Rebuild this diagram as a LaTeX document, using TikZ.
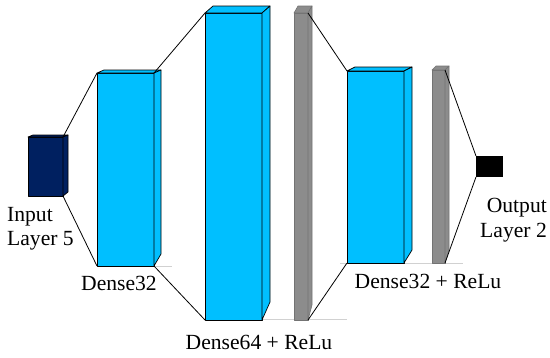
\documentclass[tikz,border=0pt]{standalone}
\usepackage{fontspec}
\setmainfont{Liberation Serif}
\definecolor{layerblue}{HTML}{00BFFF}
\definecolor{navyblue}{HTML}{002060}
\definecolor{bargray}{HTML}{8C8C8C}
\definecolor{bartop}{HTML}{7A7A7A}
\newcommand\layerbox[9]{%
  \node[#2, minimum width={(#4-#3)*1pt}, minimum height={(#6-#5)*1pt}, inner sep=0pt, outer sep=0pt] (#1) at ({(#3+#4)/2},{(#5+#6)/2}) {};
  \path[#2] (#3,#5) -- ({#3+#7},{#5-#8}) -- ({#4+#7},{#5-#8}) -- (#4,#5) -- cycle;
  \path[#2] (#4,#5) -- ({#4+#7},{#5-#8}) -- ({#4+#7},#9) -- (#4,#6) -- cycle;
}
\begin{document}
\begin{tikzpicture}[x=1pt,y=-1pt,
  face/.style={line width=0.7pt, draw=black, line join=round},
  bluebox/.style={face, fill=layerblue},
  navybox/.style={face, fill=navyblue},
  graybox/.style={line width=0.6pt, draw=black!55, fill=bargray, line join=round},
  link/.style={line width=0.8pt, draw=black},
  floorline/.style={line width=1pt, draw=black!18},
  lbl/.style={font=\fontsize{21.6}{24}\selectfont, inner sep=0pt}]
\useasboundingbox (0,0) rectangle (550,357);
% floor lines
\draw[floorline] (154,266) -- (172,266);
\draw[floorline] (262,319) -- (347,319);
\draw[floorline] (340,263) -- (463,263);
% layers
\layerbox{in}{navybox}{28}{63}{137}{196}{5}{2}{192}
\layerbox{d1}{bluebox}{97}{154}{73}{266}{7}{3}{254}
\layerbox{d2}{bluebox}{205}{262}{13}{320}{8}{7}{302}
\layerbox{g1}{graybox}{294}{308}{13}{320}{4}{7}{305}
\layerbox{d3}{bluebox}{347}{404}{71}{263}{8}{4}{250}
\layerbox{g2}{graybox}{432}{445}{70}{263}{4}{4}{250}
\node[fill=black, minimum width=27pt, minimum height=21pt, inner sep=0pt, outer sep=0pt] (out) at (489.5,166.5) {};
% connectors
\draw[link] (in.north east) -- (d1.north west);
\draw[link] (in.south east) -- (d1.south west);
\draw[link] (d1.north east) -- (d2.north west);
\draw[link] (d1.south east) -- (d2.south west);
\draw[link] (g1.north east) -- (d3.north west);
\draw[link] (g1.south east) -- (d3.south west);
\draw[link] (g2.north east) -- (out.north west);
\draw[link] (g2.south east) -- (out.south west);
% labels
\node[lbl, anchor=base west] (inl1) at (7,221) {Input};
\node[lbl, anchor=base west] (inl2) at (7,245) {Layer 5};
\node[lbl, anchor=base] (d1l) at (119,290) {Dense32};
\node[lbl, anchor=base] (d2l) at (259,349) {Dense64 + ReLu};
\node[lbl, anchor=base] (d3l) at (428,288) {Dense32 + ReLu};
\node[lbl, anchor=base east] (outl1) at (547,212) {Output};
\node[lbl, anchor=base east] (outl2) at (547,237) {Layer 2};
\end{tikzpicture}
\end{document}
